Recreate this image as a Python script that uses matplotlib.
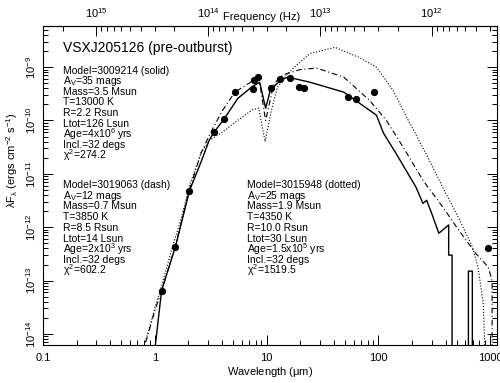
import numpy as np
import matplotlib
matplotlib.use("Agg")
import matplotlib.pyplot as plt
from matplotlib.ticker import LogLocator, FixedLocator, NullFormatter

plt.rcParams['font.family'] = ['Liberation Sans', 'DejaVu Sans']
plt.rcParams['mathtext.fontset'] = 'custom'
plt.rcParams['mathtext.rm'] = 'Liberation Sans'
plt.rcParams['mathtext.it'] = 'Liberation Sans'

# observed SED points (wavelength in micron, lambda*F_lambda)
pts_wl = [1.15, 1.53, 2.04, 3.4, 4.17, 5.2, 7.5, 7.7, 8.3, 11.0, 13.3, 16.3, 19.5, 21.7, 54, 63, 91, 950]
pts_f = [6.5e-14, 4.3e-13, 4.8e-12, 6.0e-11, 1.07e-10, 3.4e-10, 3.9e-10, 5.7e-10, 6.5e-10,
         4.0e-10, 6.0e-10, 6.2e-10, 4.2e-10, 4.0e-10, 2.7e-10, 2.5e-10, 3.4e-10, 4.1e-13]

# model 3009214 (solid)
solid_wl = [1.0, 1.15, 1.53, 2.04, 2.6, 3.07, 3.4, 4.16, 5.53, 7.52, 8.67, 9.8, 10.8, 13.3, 15.5,
            24.5, 49, 96, 111, 144, 217, 250, 270, 300, 347, 425, 425, 456, 456, 638, 638, 692, 692]
solid_f = [5e-15, 6.5e-14, 4.3e-13, 4.8e-12, 1.7e-11, 4.3e-11, 6.1e-11, 1.06e-10, 2.6e-10, 4.4e-10,
           5.2e-10, 1.7e-10, 3.7e-10, 5.7e-10, 6.5e-10, 5.2e-10, 3.4e-10, 1.26e-10, 5.8e-11, 2.4e-11,
           5.6e-12, 2.8e-12, 3.2e-12, 1.8e-12, 7.7e-13, 1.1e-12, 3e-13, 3e-13, 1e-16, 1e-16, 1.5e-13,
           1.5e-13, 1e-16]

# model 3019063 (dash)
dash_wl = [0.83, 1.0, 1.15, 1.53, 2.04, 2.6, 3.1, 4.0, 5.2, 7.5, 8.5, 9.8, 11.5, 13, 15, 20, 28,
           49, 83, 118, 166, 250, 376, 521, 736, 958, 1040, 1040]
dash_f = [7e-15, 2.7e-14, 6.5e-14, 4.5e-13, 5e-12, 2.5e-11, 5.5e-11, 1.5e-10, 3.4e-10, 5.5e-10,
          6.5e-10, 1.0e-10, 4.5e-10, 6.5e-10, 7.5e-10, 9e-10, 9.6e-10, 6.5e-10, 2.4e-10, 1.0e-10,
          3.2e-11, 7.6e-12, 2.4e-12, 8.9e-13, 3.3e-13, 1.8e-13, 1e-13, 1e-16]

# model 3015948 (dotted)
dot_wl = [0.82, 1.0, 1.15, 1.47, 1.73, 2.04, 2.6, 3.1, 4.0, 5.5, 7.5, 8.5, 9.7, 11, 12.5, 15, 17.7,
          24.5, 41, 68, 96, 135, 177, 266, 376, 521, 692, 777, 866, 958]
dot_f = [7e-15, 3e-14, 8e-14, 5e-13, 1.5e-12, 6e-12, 2.5e-11, 4.3e-11, 6e-11, 1.0e-10, 1.6e-10,
         1.7e-10, 4e-11, 1.5e-10, 4.2e-10, 7e-10, 1e-9, 1.8e-9, 2.35e-9, 1.5e-9, 1e-9, 3.7e-10,
         1.2e-10, 2.4e-11, 5.6e-12, 1.5e-12, 4.3e-13, 1.8e-13, 3.8e-14, 1e-16]

title = "VSXJ205126 (pre-outburst)"
block1 = ["Model=3009214 (solid)", "A$_V$=35 mags", "Mass=3.5 Msun", "T=13000 K", "R=2.2 Rsun",
          "Ltot=126 Lsun", "Age=4x10$^6$ yrs", "Incl.=32 degs", "$\\chi^2$=274.2"]
block2 = ["Model=3019063 (dash)", "A$_V$=12 mags", "Mass=0.7 Msun", "T=3850 K", "R=8.5 Rsun",
          "Ltot=14 Lsun", "Age=2x10$^3$ yrs", "Incl.=32 degs", "$\\chi^2$=602.2"]
block3 = ["Model=3015948 (dotted)", "A$_V$=25 mags", "Mass=1.9 Msun", "T=4350 K", "R=10.0 Rsun",
          "Ltot=30 Lsun", "Age=1.5x10$^5$ yrs", "Incl.=32 degs", "$\\chi^2$=1519.5"]

W, H = 500, 383
fig = plt.figure(figsize=(W / 100, H / 100), dpi=100)
ax = fig.add_axes([43 / W, 1 - 345 / H, 454 / W, 319 / H])

ax.plot(solid_wl, solid_f, color='k', lw=1.0, ls='-')
ax.plot(dash_wl, dash_f, color='k', lw=0.8, dashes=(5, 2.5, 1, 2.5))
ax.plot(dot_wl, dot_f, color='k', lw=0.8, ls=':')
ax.plot(pts_wl, pts_f, 'o', color='k', ms=4.2)

ax.set_xscale('log')
ax.set_yscale('log')
ax.set_xlim(0.1, 1150)
ax.set_ylim(6.2e-15, 5.9e-9)

ax.set_xticks([0.1, 1, 10, 100, 1000])
ax.set_xticklabels(['0.1', '1', '10', '100', '1000'])
ax.xaxis.set_minor_locator(LogLocator(base=10, subs=np.arange(2, 10)))
ax.xaxis.set_minor_formatter(NullFormatter())
ax.yaxis.set_major_locator(FixedLocator([1e-14, 1e-13, 1e-12, 1e-11, 1e-10, 1e-9]))
ax.set_yticklabels(['10$^{-14}$', '10$^{-13}$', '10$^{-12}$', '10$^{-11}$', '10$^{-10}$', '10$^{-9}$'],
                   rotation=90, va='center')
ax.yaxis.set_minor_locator(LogLocator(base=10, subs=np.arange(2, 10)))
ax.yaxis.set_minor_formatter(NullFormatter())
ax.tick_params(which='both', direction='in', top=False, right=True, labelsize=8, width=0.7)
ax.tick_params(which='major', length=7)
ax.tick_params(which='minor', length=3.5)
ax.tick_params(axis='x', pad=6)
for s in ax.spines.values():
    s.set_linewidth(0.8)

c = 2.998e14
sec = ax.secondary_xaxis('top', functions=(lambda x: c / x, lambda x: c / x))
sec.set_xticks([1e15, 1e14, 1e13, 1e12])
sec.set_xticklabels(['10$^{15}$', '10$^{14}$', '10$^{13}$', '10$^{12}$'])
sec.xaxis.set_minor_locator(LogLocator(base=10, subs=np.arange(2, 10)))
sec.xaxis.set_minor_formatter(NullFormatter())
sec.tick_params(which='both', direction='in', labelsize=8, width=0.7, pad=4)
sec.tick_params(which='major', length=7)
sec.tick_params(which='minor', length=3.5)

fig.text(262 / W, 1 - 17 / H, "Frequency (Hz)", fontsize=8, ha='center', va='center')
fig.text(270 / W, 1 - 372 / H, "Wavelength ($\\mu$m)", fontsize=8, ha='center', va='center')
fig.text(12 / W, 1 - 160 / H, "$\\lambda$F$_\\lambda$ (ergs cm$^{-2}$ s$^{-1}$)", fontsize=8,
         rotation=90, ha='center', va='center')

fig.text(63 / W, 1 - 48 / H, title, fontsize=10, ha='left', va='center')
ys1 = [71, 81, 92, 102, 113, 124, 134, 145, 155]
ys2 = [185, 196, 206, 217, 228, 239, 249, 260, 270]
for y, t in zip(ys1, block1):
    fig.text(63 / W, 1 - y / H, t, fontsize=7.5, ha='left', va='center')
for y, t in zip(ys2, block2):
    fig.text(63 / W, 1 - y / H, t, fontsize=7.5, ha='left', va='center')
for y, t in zip(ys2, block3):
    fig.text(247 / W, 1 - y / H, t, fontsize=7.5, ha='left', va='center')

fig.savefig("out.png", dpi=100)
